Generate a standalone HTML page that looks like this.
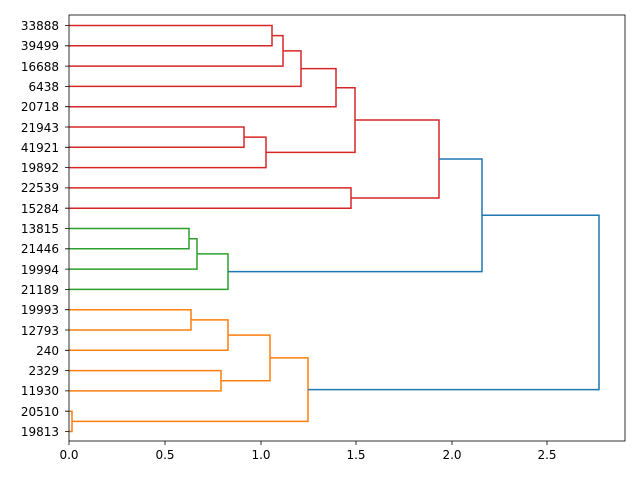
<!DOCTYPE html>
<html><head><meta charset="utf-8"><style>body{margin:0;background:#fff}svg{display:block}</style></head><body>
<svg width="640" height="480" xmlns="http://www.w3.org/2000/svg" font-family="DejaVu Sans, Liberation Sans, sans-serif" font-size="12">
<g fill="none" stroke-width="1.5">
<g stroke="#d62728">
<path d="M69 25.5H272V45.8H69"/>
<path d="M272 35.6H283V66.1H69"/>
<path d="M283 50.9H301V86.4H69"/>
<path d="M301 68.6H336V106.7H69"/>
<path d="M69 127H244V147.3H69"/>
<path d="M244 137.1H266V167.6H69"/>
<path d="M336 87.7H355V152.4H266"/>
<path d="M69 187.9H351V208.2H69"/>
<path d="M355 120H439V198H351"/>
</g>
<g stroke="#2ca02c">
<path d="M69 228.5H189V248.8H69"/>
<path d="M189 238.7H197V269.1H69"/>
<path d="M197 253.9H228V289.4H69"/>
</g>
<g stroke="#ff7f0e">
<path d="M69 309.7H191V330H69"/>
<path d="M191 319.9H228V350.3H69"/>
<path d="M69 370.6H221V390.9H69"/>
<path d="M228 335.1H270V380.7H221"/>
<path d="M69 411.2H72V431.5H69"/>
<path d="M270 357.9H308V421.4H72"/>
</g>
<g stroke="#1f77b4">
<path d="M228 271.6H482V159H439"/>
<path d="M482 215.3H599V389.6H308"/>
</g>
</g>
<rect x="69" y="15" width="556" height="426" fill="none" stroke="#000" stroke-width="0.8"/>
<g stroke="#000" stroke-width="0.8">
<path d="M69 441v4M165 441v4M261 441v4M356 441v4M452 441v4M547 441v4"/>
<path d="M69 25.5h-4M69 45.8h-4M69 66.1h-4M69 86.4h-4M69 106.7h-4M69 127h-4M69 147.3h-4M69 167.6h-4M69 187.9h-4M69 208.2h-4M69 228.5h-4M69 248.8h-4M69 269.1h-4M69 289.4h-4M69 309.7h-4M69 330h-4M69 350.3h-4M69 370.6h-4M69 390.9h-4M69 411.2h-4M69 431.5h-4"/>
</g>
<g text-anchor="middle" fill="#000">
<text x="69" y="459">0.0</text><text x="165" y="459">0.5</text><text x="261" y="459">1.0</text><text x="356" y="459">1.5</text><text x="452" y="459">2.0</text><text x="547" y="459">2.5</text>
</g>
<g text-anchor="end" fill="#000">
<text x="59" y="30">33888</text><text x="59" y="50">39499</text><text x="59" y="71">16688</text><text x="59" y="91">6438</text><text x="59" y="111">20718</text><text x="59" y="132">21943</text><text x="59" y="152">41921</text><text x="59" y="172">19892</text><text x="59" y="192">22539</text><text x="59" y="213">15284</text><text x="59" y="233">13815</text><text x="59" y="253">21446</text><text x="59" y="274">19994</text><text x="59" y="294">21189</text><text x="59" y="314">19993</text><text x="59" y="335">12793</text><text x="59" y="355">240</text><text x="59" y="375">2329</text><text x="59" y="395">11930</text><text x="59" y="416">20510</text><text x="59" y="436">19813</text>
</g>
</svg>
</body></html>
